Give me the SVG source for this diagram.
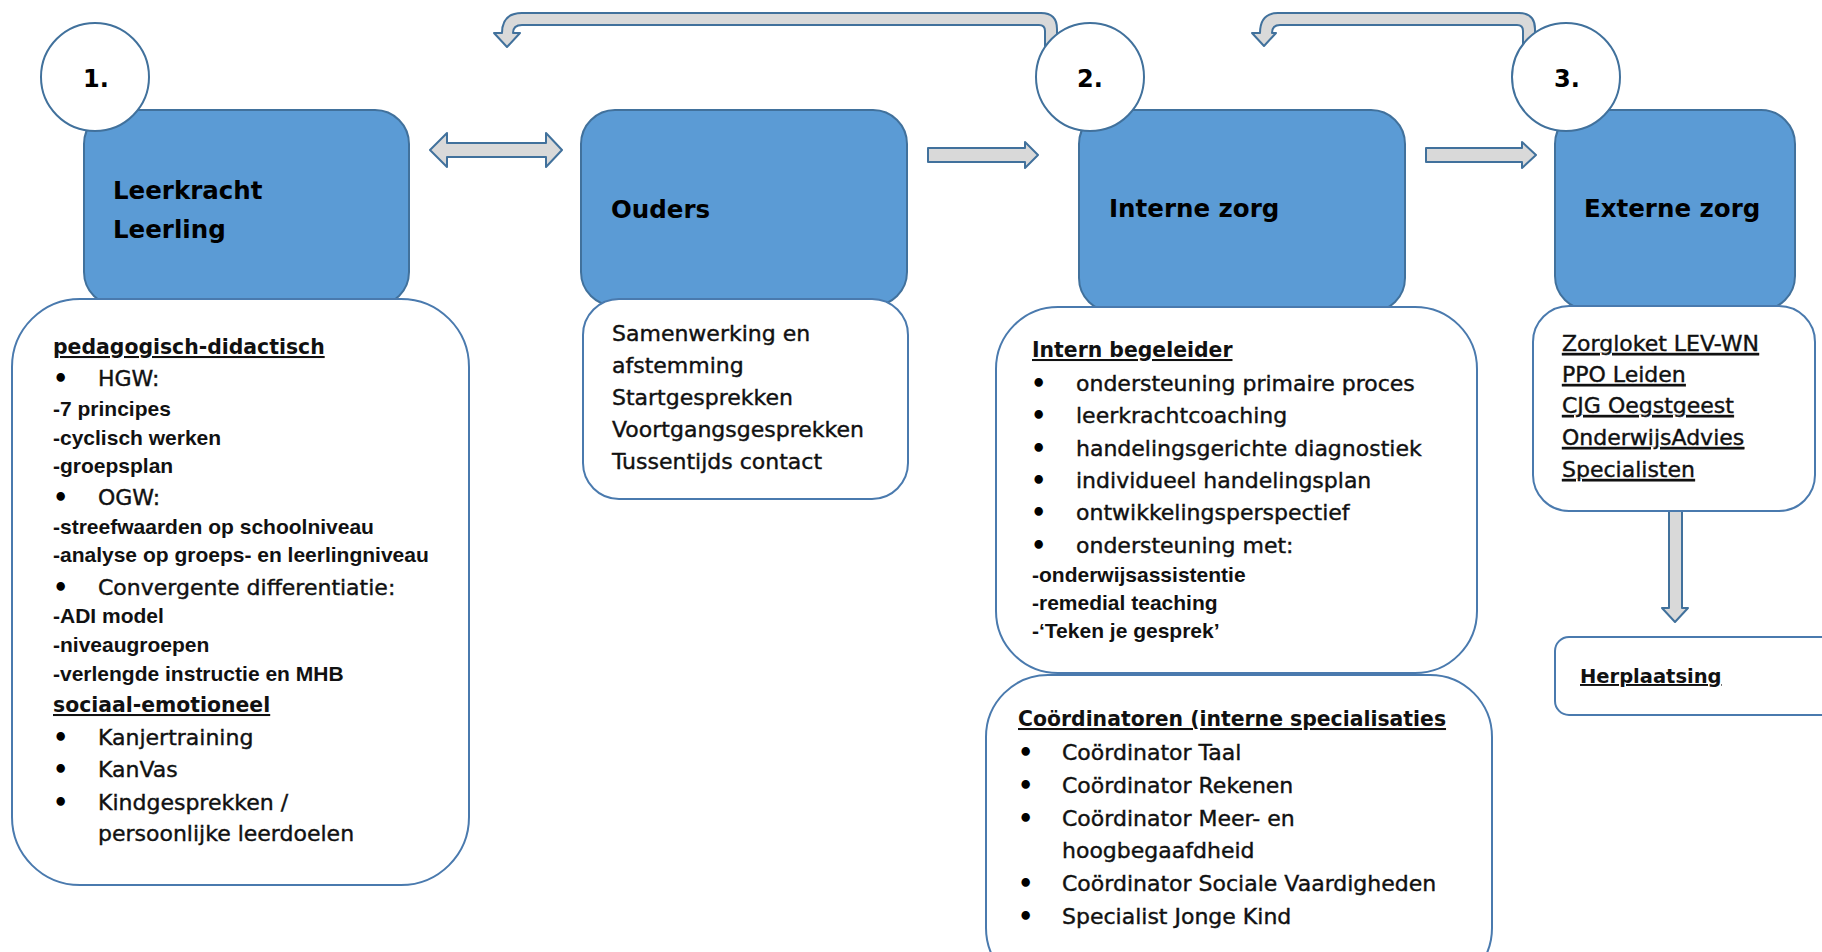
<svg xmlns="http://www.w3.org/2000/svg" width="1822" height="952" viewBox="0 0 1822 952">
<style>
.blue{fill:#5B9BD5;stroke:#41719C;stroke-width:2}
.wbox{fill:#fff;stroke:#4A7AAE;stroke-width:2}
.circ{fill:#fff;stroke:#41719C;stroke-width:2}
.arrow{fill:#D9D9D9;stroke:#41719C;stroke-width:2;stroke-linejoin:round}
.hdr{font-family:"DejaVu Sans",sans-serif;font-weight:bold;font-size:24.5px;fill:#000}
.num{font-family:"DejaVu Sans",sans-serif;font-weight:bold;font-size:24px;fill:#000;text-anchor:middle}
.head{font-family:"DejaVu Sans",sans-serif;font-weight:bold;font-size:20.4px;fill:#111;text-decoration:underline}
.item{font-family:"DejaVu Sans",sans-serif;font-size:22px;fill:#111;stroke:#111;stroke-width:0.4}
.bul{font-family:"DejaVu Sans",sans-serif;font-weight:bold;font-size:24px;fill:#000}
.sub{font-family:"Liberation Sans",Arial,sans-serif;font-weight:bold;font-size:21px;fill:#111}
.link{font-family:"DejaVu Sans",sans-serif;font-size:22px;fill:#111;stroke:#111;stroke-width:0.4;text-decoration:underline}
.linkb{font-family:"DejaVu Sans",sans-serif;font-weight:bold;font-size:19.5px;fill:#111;text-decoration:underline}
</style>

<g id="connectors">
  <path class="arrow" d="M430 150 L447 133 L447 143 L546 143 L546 133 L562 150 L546 167 L546 157 L447 157 L447 167 Z"/>
  <path class="arrow" d="M928 148 L1025 148 L1025 142 L1038 155 L1025 168 L1025 162 L928 162 Z"/>
  <path class="arrow" d="M1426 148 L1522 148 L1522 142 L1536 155 L1522 168 L1522 162 L1426 162 Z"/>
  <path class="arrow" d="M1669 508 L1682 508 L1682 608 L1688 608 L1675 622 L1662 608 L1669 608 Z"/>
  <path class="arrow" d="M1057 46 L1057 29 Q1057 13 1041 13 L522 13 Q502 13 502 33 L494 33 L507 47 L520 33 L513 33 Q513 25 522 25 L1039 25 Q1045 25 1045 31 L1045 46 Z"/>
  <path class="arrow" d="M1535 46 L1535 29 Q1535 13 1519 13 L1278 13 Q1260 13 1260 33 L1252 33 L1264 46 L1276 33 L1272 33 Q1272 25 1280 25 L1517 25 Q1523 25 1523 31 L1523 46 Z"/>
</g>

<g id="leerkracht">
  <rect class="blue" x="84" y="110" width="325" height="196" rx="34"/>
  <text class="hdr" x="113" y="199">Leerkracht</text>
  <text class="hdr" x="113" y="238">Leerling</text>
</g>
<g id="leerkracht-details">
  <rect class="wbox" x="12" y="299" width="457" height="586" rx="68"/>
  <text class="head" x="53" y="354">pedagogisch-didactisch</text>
  <text class="bul" x="53" y="387">•</text><text class="item" x="98" y="386">HGW:</text>
  <text class="sub" x="53" y="416">-7 principes</text>
  <text class="sub" x="53" y="445">-cyclisch werken</text>
  <text class="sub" x="53" y="473">-groepsplan</text>
  <text class="bul" x="53" y="506">•</text><text class="item" x="98" y="505">OGW:</text>
  <text class="sub" x="53" y="534">-streefwaarden op schoolniveau</text>
  <text class="sub" x="53" y="562">-analyse op groeps- en leerlingniveau</text>
  <text class="bul" x="53" y="596">•</text><text class="item" x="98" y="595">Convergente differentiatie:</text>
  <text class="sub" x="53" y="623">-ADI model</text>
  <text class="sub" x="53" y="652">-niveaugroepen</text>
  <text class="sub" x="53" y="681">-verlengde instructie en MHB</text>
  <text class="head" x="53" y="712">sociaal-emotioneel</text>
  <text class="bul" x="53" y="746">•</text><text class="item" x="98" y="745">Kanjertraining</text>
  <text class="bul" x="53" y="778">•</text><text class="item" x="98" y="777">KanVas</text>
  <text class="bul" x="53" y="811">•</text><text class="item" x="98" y="810">Kindgesprekken /</text>
  <text class="item" x="98" y="841">persoonlijke leerdoelen</text>
</g>
<g id="step-1">
  <circle class="circ" cx="95" cy="77" r="54"/>
  <text class="num" x="96" y="87">1.</text>
</g>

<g id="ouders">
  <rect class="blue" x="581" y="110" width="326" height="196" rx="34"/>
  <text class="hdr" x="611" y="218">Ouders</text>
</g>
<g id="ouders-details">
  <rect class="wbox" x="583" y="299" width="325" height="200" rx="36"/>
  <text class="item" x="612" y="341">Samenwerking en</text>
  <text class="item" x="612" y="373">afstemming</text>
  <text class="item" x="612" y="405">Startgesprekken</text>
  <text class="item" x="612" y="437">Voortgangsgesprekken</text>
  <text class="item" x="612" y="469">Tussentijds contact</text>
</g>

<g id="interne-zorg">
  <rect class="blue" x="1079" y="110" width="326" height="202" rx="34"/>
  <text class="hdr" x="1109" y="217">Interne zorg</text>
</g>
<g id="intern-begeleider">
  <rect class="wbox" x="996" y="307" width="481" height="366" rx="62"/>
  <text class="head" x="1032" y="357">Intern begeleider</text>
  <text class="bul" x="1031" y="392">•</text><text class="item" x="1076" y="391">ondersteuning primaire proces</text>
  <text class="bul" x="1031" y="424">•</text><text class="item" x="1076" y="423">leerkrachtcoaching</text>
  <text class="bul" x="1031" y="457">•</text><text class="item" x="1076" y="456">handelingsgerichte diagnostiek</text>
  <text class="bul" x="1031" y="489">•</text><text class="item" x="1076" y="488">individueel handelingsplan</text>
  <text class="bul" x="1031" y="521">•</text><text class="item" x="1076" y="520">ontwikkelingsperspectief</text>
  <text class="bul" x="1031" y="554">•</text><text class="item" x="1076" y="553">ondersteuning met:</text>
  <text class="sub" x="1032" y="582">-onderwijsassistentie</text>
  <text class="sub" x="1032" y="610">-remedial teaching</text>
  <text class="sub" x="1032" y="638">-‘Teken je gesprek’</text>
</g>
<g id="coordinatoren">
  <rect class="wbox" x="986" y="675" width="506" height="315" rx="62"/>
  <text class="head" x="1018" y="726">Coördinatoren (interne specialisaties</text>
  <text class="bul" x="1018" y="761">•</text><text class="item" x="1062" y="760">Coördinator Taal</text>
  <text class="bul" x="1018" y="794">•</text><text class="item" x="1062" y="793">Coördinator Rekenen</text>
  <text class="bul" x="1018" y="827">•</text><text class="item" x="1062" y="826">Coördinator Meer- en</text>
  <text class="item" x="1062" y="858">hoogbegaafdheid</text>
  <text class="bul" x="1018" y="892">•</text><text class="item" x="1062" y="891">Coördinator Sociale Vaardigheden</text>
  <text class="bul" x="1018" y="925">•</text><text class="item" x="1062" y="924">Specialist Jonge Kind</text>
</g>
<g id="step-2">
  <circle class="circ" cx="1090" cy="77" r="54"/>
  <text class="num" x="1090" y="87">2.</text>
</g>

<g id="externe-zorg">
  <rect class="blue" x="1555" y="110" width="240" height="200" rx="34"/>
  <text class="hdr" x="1584" y="217">Externe zorg</text>
</g>
<g id="externe-details">
  <rect class="wbox" x="1533" y="306" width="282" height="205" rx="36"/>
  <text class="link" x="1562" y="351">Zorgloket LEV-WN</text>
  <text class="link" x="1562" y="382">PPO Leiden</text>
  <text class="link" x="1562" y="413">CJG Oegstgeest</text>
  <text class="link" x="1562" y="445">OnderwijsAdvies</text>
  <text class="link" x="1562" y="477">Specialisten</text>
</g>
<g id="step-3">
  <circle class="circ" cx="1566" cy="77" r="54"/>
  <text class="num" x="1567" y="87">3.</text>
</g>
<g id="herplaatsing">
  <rect class="wbox" x="1555" y="637" width="290" height="78" rx="14"/>
  <text class="linkb" x="1580" y="683">Herplaatsing</text>
</g>
</svg>
